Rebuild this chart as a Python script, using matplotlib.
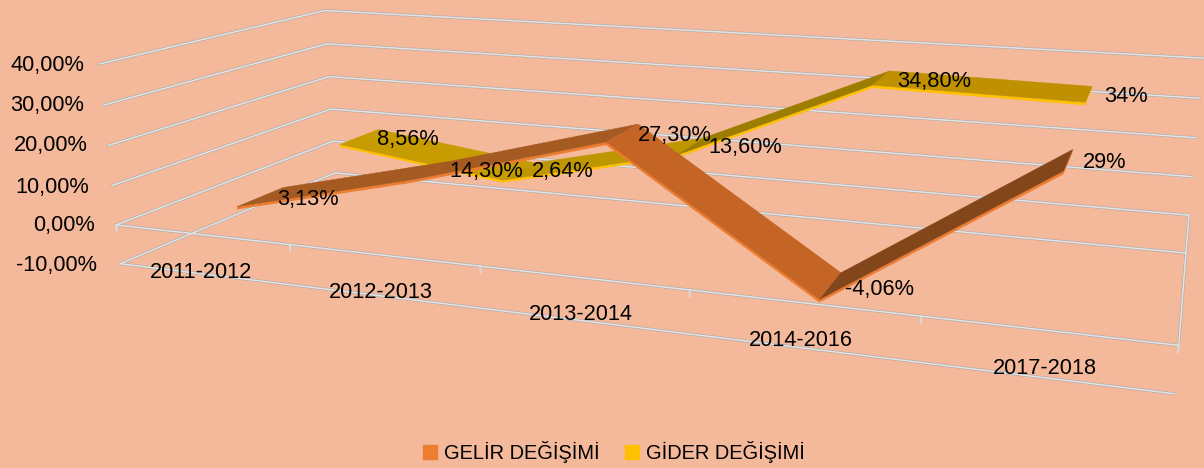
import numpy as np
import matplotlib
matplotlib.use("Agg")
import matplotlib.pyplot as plt
from matplotlib.patches import Patch

plt.rcParams['font.family'] = ['Liberation Sans', 'DejaVu Sans']

categories = ["2011-2012", "2012-2013", "2013-2014", "2014-2016", "2017-2018"]
gelir = [3.13, 14.30, 27.30, -4.06, 29.0]
gider = [8.56, 2.64, 13.60, 34.80, 34.0]
gelir_labels = ["3,13%", "14,30%", "27,30%", "-4,06%", "29%"]
gider_labels = ["8,56%", "2,64%", "13,60%", "34,80%", "34%"]
value_ticks = [40, 30, 20, 10, 0, -10]
value_tick_labels = ["40,00%", "30,00%", "20,00%", "10,00%", "0,00%", "-10,00%"]

BG = "#F4B99B"

# camera calibration: box corner (x, value, depth) -> pixel on the picture
calib = [
    (0, 40, 0, 100, 64), (0, 30, 0, 104, 105), (0, 20, 0, 108, 146),
    (0, 10, 0, 111, 186), (0, 0, 0, 116, 224), (0, -10, 0, 120, 264),
    (0, 40, 1, 325, 11), (0, 30, 1, 327, 43), (0, 20, 1, 328, 77),
    (0, 10, 1, 330, 109), (0, 0, 1, 333, 141), (0, -10, 1, 337, 173),
    (1, 40, 1, 1203, 58), (1, 30, 1, 1200, 98), (1, 20, 1, 1197, 138),
    (1, 10, 1, 1193, 177), (1, 0, 1, 1188, 215), (1, -10, 1, 1185, 253),
    (1, 0, 0, 1178, 345), (1, -10, 0, 1175, 394),
]


def fit_camera(points):
    rows = []
    for (x, v, z, px, py) in points:
        X = [x, v / 10.0, z, 1]
        rows.append(X + [0, 0, 0, 0] + [-px * c for c in X])
        rows.append([0, 0, 0, 0] + X + [-py * c for c in X])
    u, s, vt = np.linalg.svd(np.array(rows, dtype=float))
    return vt[-1].reshape(3, 4)


camera = fit_camera(calib)


def proj(x, v, z):
    p = camera @ np.array([x, v / 10.0, z, 1.0])
    return p[0] / p[2], p[1] / p[2]


def line3d(ax, pts, **kw):
    xy = np.array([proj(*p) for p in pts])
    ax.plot(xy[:, 0], xy[:, 1], solid_capstyle="round", **kw)


def grid3d(ax, pts):
    line3d(ax, pts, color="#AFABA8", lw=2.0, zorder=1)
    line3d(ax, pts, color="#E4E4E4", lw=1.1, zorder=1.1)


def ribbon(ax, values, z1, z2, top_colors, front_color, zo):
    n = len(values)
    xs = [(i + 0.5) / n for i in range(n)]
    thick = 0.7
    for i in range(n - 1):
        a, b = values[i], values[i + 1]
        front = [proj(xs[i], a, z1), proj(xs[i + 1], b, z1),
                 proj(xs[i + 1], b - thick, z1), proj(xs[i], a - thick, z1)]
        top = [proj(xs[i], a, z1), proj(xs[i + 1], b, z1),
               proj(xs[i + 1], b, z2), proj(xs[i], a, z2)]
        ax.fill(*zip(*front), color=front_color, lw=0, zorder=zo + i * 0.1)
        ax.fill(*zip(*top), color=top_colors[i], lw=0.3, zorder=zo + i * 0.1 + 0.01)
    end = [proj(xs[-1], values[-1], z1), proj(xs[-1], values[-1], z2),
           proj(xs[-1], values[-1] - thick, z2), proj(xs[-1], values[-1] - thick, z1)]
    ax.fill(*zip(*end), color=front_color, lw=0, zorder=zo - 0.01)


fig = plt.figure(figsize=(12.04, 4.68), dpi=100, facecolor=BG)
ax = fig.add_axes([0, 0, 1, 1])
ax.set_xlim(0, 1204)
ax.set_ylim(468, 0)
ax.axis("off")

for v in value_ticks:
    grid3d(ax, [(0, v, 0), (0, v, 1), (1, v, 1)])
grid3d(ax, [(0, 0, 0), (1, 0, 0), (1, 0, 1)])
grid3d(ax, [(0, -10, 0), (1, -10, 0)])
for i in range(6):
    line3d(ax, [(i / 5.0, 0, 0), (i / 5.0, -1.5, 0)], color="#DADADA", lw=1.4, zorder=1)

ribbon(ax, gider, 0.64, 0.85, ["#C79C00", "#BE9600", "#9C7D00", "#BF9000"], "#FFC000", 3)
ribbon(ax, gelir, 0.15, 0.355, ["#A55A22", "#A55A22", "#C46526", "#83451A"], "#ED7D31", 5)

tick_right = [84, 84, 88, 89, 95, 97]
tick_y = [66, 106, 146, 187, 226, 265]
for lab, rx, y in zip(value_tick_labels, tick_right, tick_y):
    ax.text(rx, y, lab, ha="right", va="center", fontsize=15.7, color="black", zorder=10)

cat_x = [201, 381, 581, 801, 1045]
cat_y = [272, 293, 315, 340, 368]
for lab, x, y in zip(categories, cat_x, cat_y):
    ax.text(x, y, lab, ha="center", va="center", fontsize=15.7, color="black", zorder=10)

# data label anchors, left edge of the text
gelir_xy = [(277, 199), (449, 171), (638, 135), (845, 289), (1083, 162)]
gider_xy = [(377, 140), (532, 172), (708, 148), (897, 81), (1104, 96)]
for lab, (x, y) in zip(gelir_labels + gider_labels, gelir_xy + gider_xy):
    ax.text(x, y, lab, ha="left", va="center", fontsize=15.7, color="black", zorder=10)

handles = [Patch(color="#ED7D31"), Patch(color="#FFC000")]
ax.legend(handles, ["GELİR DEĞİŞİMİ", "GİDER DEĞİŞİMİ"], ncol=2, loc="center",
          bbox_to_anchor=(614 / 1204, 1 - 452 / 468), frameon=False, fontsize=14.4,
          handlelength=0.7, handleheight=0.7, handletextpad=0.35, columnspacing=1.25,
          labelcolor="black")

fig.savefig("out.png", dpi=100, facecolor=BG)
